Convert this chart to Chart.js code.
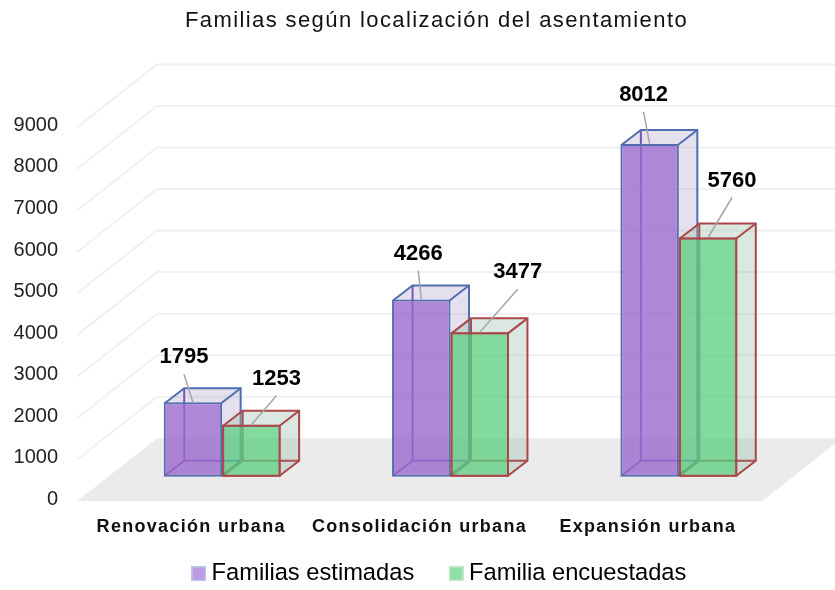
<!DOCTYPE html>
<html>
<head>
<meta charset="utf-8">
<script src="https://cdn.jsdelivr.net/npm/chart.js@4/dist/chart.umd.js"></script>
<style>
	body { margin: 0; background: #fff; }
</style>
</head>
<body>
<canvas id="familias" width="835" height="590"></canvas>
<script>
const categories = ['Renovación urbana', 'Consolidación urbana', 'Expansión urbana'];
const estimadas = [1795, 4266, 8012];
const encuestadas = [1253, 3477, 5760];
const seriesNames = ['Familias estimadas', 'Familia encuestadas'];
const yTicks = [0, 1000, 2000, 3000, 4000, 5000, 6000, 7000, 8000, 9000];

// where the value labels sit relative to the top centre of each bar
const labelOffsets = [
	[[-9, -45], [-3, -46], [-6, -49]],
	[[25, -46], [38, -60], [24, -57]],
];

const FONT = '"Liberation Sans", Arial, sans-serif';
const shift = { x: 31, y: -24.5 };	// bars stand in the middle of the floor
const depth = { x: 19.5, y: -15 };
const wall = { x: 80, y: -63 };
const edgeColors = ['#4f6fb0', '#a84848'];
const innerColors = ['#7a55b8', '#a85050'];
const sideColors = ['rgba(180,165,205,0.35)', 'rgba(150,190,170,0.35)'];

function legendBox(color, border) {
	const c = document.createElement('canvas');
	c.width = 15;
	c.height = 15;
	const g = c.getContext('2d');
	g.fillStyle = color;
	g.fillRect(0, 0, 15, 15);
	g.strokeStyle = border;
	g.lineWidth = 1.5;
	g.strokeRect(0.75, 0.75, 13.5, 13.5);
	return c;
}

function spaced(obj, method, spacing) {
	const orig = obj[method].bind(obj);
	obj[method] = function (a) {
		obj.ctx.letterSpacing = spacing;
		orig(a);
		obj.ctx.letterSpacing = '0px';
	};
}

function path(ctx, pts, closed) {
	ctx.beginPath();
	pts.forEach((p, i) => (i ? ctx.lineTo(p[0], p[1]) : ctx.moveTo(p[0], p[1])));
	if (closed) ctx.closePath();
}

let wrapped = false;

const box3d = {
	id: 'box3d',
	afterLayout(chart) {
		// legend sits a little right of the title
		chart.legend.left += 5.5;
		chart.legend.right += 5.5;
		if (wrapped) return;
		wrapped = true;
		spaced(chart.titleBlock, 'draw', '1.4px');
		spaced(chart.scales.x, 'drawLabels', '1.3px');
		// tick labels hang outside the fixed axis boxes
		chart.scales.x._computeLabelArea = () => null;
		chart.scales.y._computeLabelArea = () => null;
	},
	beforeDatasetsDraw(chart) {
		const ctx = chart.ctx;
		const y = chart.scales.y;
		const a = chart.chartArea;
		ctx.save();

		// floor
		const y0 = y.getPixelForValue(0);
		ctx.fillStyle = '#ebebeb';
		path(ctx, [[a.left, y0], [a.right, y0], [a.right + wall.x, y0 + wall.y], [a.left + wall.x, y0 + wall.y]], true);
		ctx.fill();

		// grid on the left and back walls
		ctx.strokeStyle = '#f0f0f0';
		ctx.lineWidth = 2;
		yTicks.slice(1).forEach((t) => {
			const p = y.getPixelForValue(t);
			path(ctx, [[a.left, p], [a.left + wall.x, p + wall.y], [835, p + wall.y]]);
			ctx.stroke();
		});

		// back, side and top faces of the boxes, front faces come from chart.js
		ctx.translate(shift.x, shift.y);
		ctx.lineWidth = 2;
		chart.data.datasets.forEach((ds, d) => {
			chart.getDatasetMeta(d).data.forEach((bar) => {
				const l = bar.x - bar.width / 2 + 1;
				const r = bar.x + bar.width / 2 - 1;
				const t = bar.y + 1;
				const b = bar.base - 1;
				const dx = depth.x;
				const dy = depth.y;
				ctx.fillStyle = sideColors[d];
				path(ctx, [[r, t], [r + dx, t + dy], [r + dx, b + dy], [r, b]], true);
				ctx.fill();
				path(ctx, [[l, t], [l + dx, t + dy], [r + dx, t + dy], [r, t]], true);
				ctx.fill();
				ctx.strokeStyle = innerColors[d];
				path(ctx, [[l, b], [l + dx, b + dy], [r + dx, b + dy]]);
				ctx.stroke();
				path(ctx, [[l + dx, b + dy], [l + dx, t + dy]]);
				ctx.stroke();
				ctx.strokeStyle = edgeColors[d];
				path(ctx, [[l, t], [l + dx, t + dy], [r + dx, t + dy], [r + dx, b + dy], [r, b]]);
				ctx.stroke();
				path(ctx, [[r + dx, t + dy], [r, t]]);
				ctx.stroke();
			});
		});
		ctx.restore();
	},
	beforeDatasetDraw(chart) {
		chart.ctx.save();
		chart.ctx.translate(shift.x, shift.y);
	},
	afterDatasetDraw(chart) {
		chart.ctx.restore();
	},
	afterDatasetsDraw(chart) {
		const ctx = chart.ctx;
		ctx.save();
		ctx.translate(shift.x, shift.y);

		// red outline sits on top of the shared edge
		ctx.strokeStyle = edgeColors[1];
		ctx.lineWidth = 2;
		chart.getDatasetMeta(1).data.forEach((bar) => {
			ctx.strokeRect(bar.x - bar.width / 2 + 1, bar.y + 1, bar.width - 2, bar.base - bar.y - 2);
		});

		// value labels with their leader lines
		ctx.font = 'bold 22px ' + FONT;
		ctx.textAlign = 'center';
		ctx.textBaseline = 'middle';
		chart.data.datasets.forEach((ds, d) => {
			chart.getDatasetMeta(d).data.forEach((bar, i) => {
				const off = labelOffsets[d][i];
				ctx.strokeStyle = '#a6a6a6';
				ctx.lineWidth = 1.5;
				path(ctx, [[bar.x, bar.y], [bar.x + off[0], bar.y + off[1] + 17]]);
				ctx.stroke();
				ctx.fillStyle = '#000';
				ctx.fillText(ds.data[i], bar.x + off[0], bar.y + off[1]);
			});
		});
		ctx.restore();
	},
};

new Chart(document.getElementById('familias'), {
	type: 'bar',
	data: {
		labels: categories,
		datasets: [
			{
				label: seriesNames[0],
				data: estimadas,
				backgroundColor: 'rgba(155,105,205,0.8)',
				borderColor: edgeColors[0],
				borderWidth: 2,
				borderSkipped: false,
				clip: false,
			},
			{
				label: seriesNames[1],
				data: encuestadas,
				backgroundColor: 'rgba(90,205,125,0.75)',
				borderColor: edgeColors[1],
				borderWidth: 2,
				borderSkipped: false,
				clip: false,
			},
		],
	},
	options: {
		responsive: false,
		animation: false,
		categoryPercentage: 0.512,
		barPercentage: 1,
		layout: { padding: { left: 38, bottom: -5.5 } },
		plugins: {
			tooltip: { enabled: false },
			title: {
				display: true,
				text: 'Familias según localización del asentamiento',
				color: '#111',
				font: { family: FONT, size: 22, weight: 'normal' },
				padding: { top: 8, bottom: 93 },
			},
			legend: {
				position: 'bottom',
				labels: {
					color: '#222',
					font: { family: FONT, size: 23.7 },
					usePointStyle: true,
					pointStyleWidth: 2,
					padding: 41,
					generateLabels(chart) {
						return [
							{ text: seriesNames[0], pointStyle: legendBox('#c09ae2', '#b9c8ea'), datasetIndex: 0 },
							{ text: seriesNames[1], pointStyle: legendBox('#8fe0a8', '#c6e6d0'), datasetIndex: 1 },
						];
					},
				},
			},
		},
		scales: {
			x: {
				grid: { display: false },
				border: { display: false },
				ticks: {
					color: '#111',
					font: { family: FONT, size: 18, weight: 'bold' },
					padding: 7,
					maxRotation: 0,
					autoSkip: false,
				},
				afterFit(s) { s.height = 19.5; },
			},
			y: {
				min: 0,
				max: 9000,
				grid: { display: false, drawTicks: false },
				border: { display: false },
				afterBuildTicks(s) { s.ticks = yTicks.map((v) => ({ value: v })); },
				afterFit(s) { s.width = 39; },
				ticks: {
					color: '#222',
					font: { family: FONT, size: 20 },
					padding: 19,
					labelOffset: -2,
					callback: (v) => String(v),
				},
			},
			right: {
				type: 'linear',
				axis: 'y',
				position: 'right',
				grid: { display: false },
				border: { display: false },
				ticks: { display: false },
				afterFit(s) { s.width = 73; },
			},
		},
	},
	plugins: [box3d],
});
</script>
</body>
</html>
